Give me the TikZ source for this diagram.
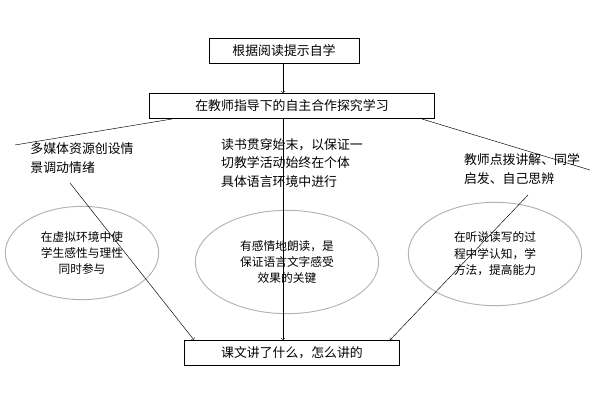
\documentclass[tikz,border=0pt]{standalone}
\usepackage{fontspec}
\setmainfont{Noto Sans CJK SC}
\usetikzlibrary{shapes.geometric}

\tikzset{
	stepbox/.style={draw,thick,minimum height=0.75cm,font=\fontsize{11}{13}\selectfont},
	note/.style={align=left,font=\fontsize{11}{16}\selectfont},
	oval/.style={draw=gray!60,thick,ellipse,align=center,font=\fontsize{10}{14}\selectfont}
}

\begin{document}
\begin{tikzpicture}[x=0.03cm,y=-0.03cm]
		\useasboundingbox (0,0) rectangle (600,400);
		\node[stepbox,minimum width=4.5cm] (self) at (284,51) {根据阅读提示自学};
		\node[stepbox,minimum width=8.55cm] (guide) at (292,106) {在教师指导下的自主合作探究学习};
		\node[stepbox,minimum width=6.45cm] (lesson) at (292,353) {课文讲了什么，怎么讲的};

		\node[note] (media) at (82,158) {多媒体资源创设情\\景调动情绪};
		\node[note] (read) at (292,163) {读书贯穿始末，以保证一\\切教学活动始终在个体\\具体语言环境中进行};
		\node[note] (teach) at (522,169) {教师点拨讲解、同学\\启发、自己思辨};

		\node[oval,minimum width=4.6cm,minimum height=2.8cm] (virtual) at (82,253) {在虚拟环境中使\\学生感性与理性\\同时参与};
		\node[oval,minimum width=5.5cm,minimum height=3.1cm] (loud) at (287,262) {有感情地朗读，是\\保证语言文字感受\\效果的关键};
		\node[oval,minimum width=5.2cm,minimum height=3.1cm] (listen) at (495,254) {在听说读写的过\\程中学认知，学\\方法，提高能力};

		\coordinate (gl) at (172,119);
		\coordinate (gr) at (422,119);
		\coordinate (el) at (15,145);
		\coordinate (er) at (590,170);
		\coordinate (mid) at (283,0);

		\draw[->] (mid |- self.south) -- (mid |- guide.north);
		\draw (gl) -- (el);
		\draw (gr) -- (er);
		\draw[->] (mid |- guide.south) -- (mid |- lesson.north);
		\draw[->] (70,183) -- ([xshift=0.3cm]lesson.north west);
		\draw[->] (528,195) -- ([xshift=-0.3cm]lesson.north east);
	\end{tikzpicture}
\end{document}
